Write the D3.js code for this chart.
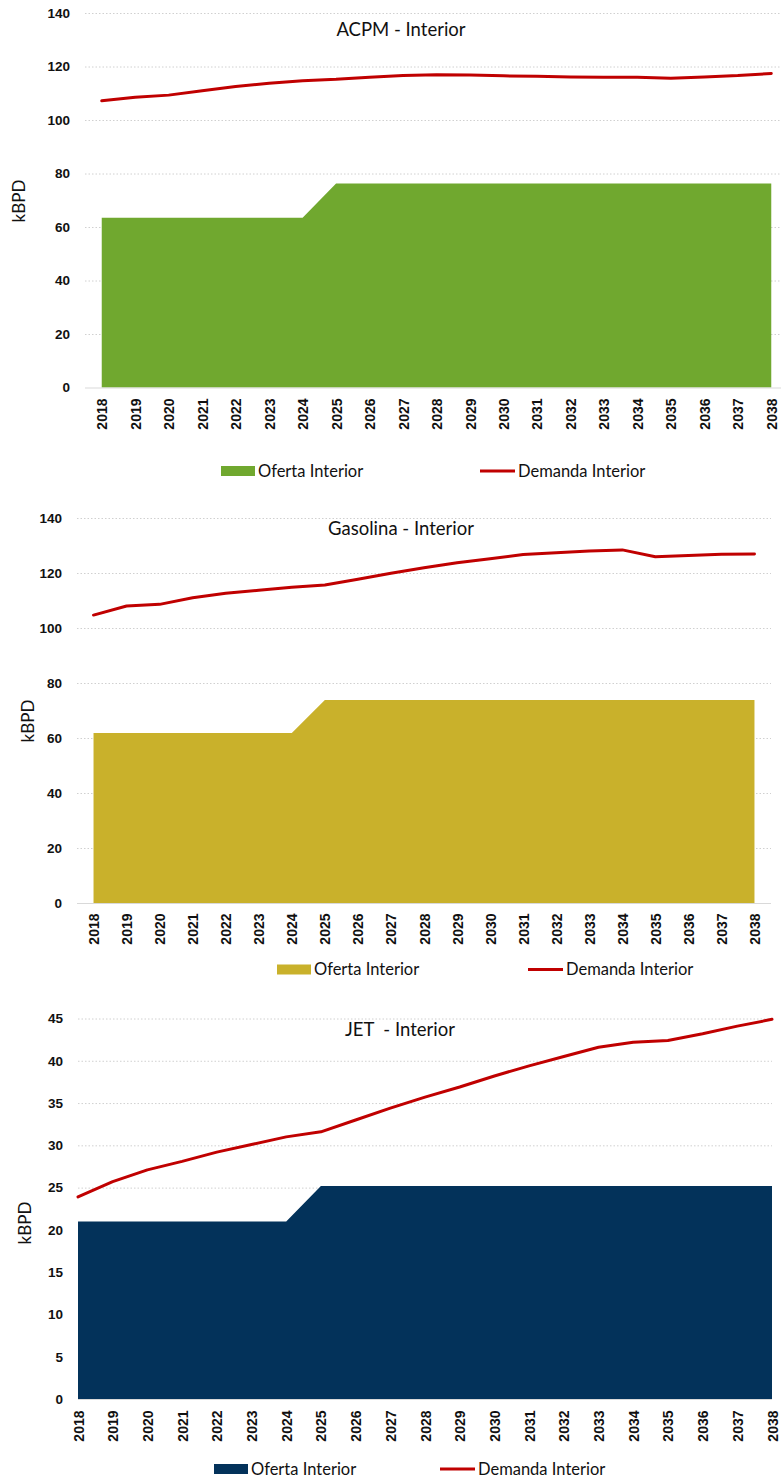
<!DOCTYPE html>
<html>
<head>
<meta charset="utf-8">
<script src="https://cdn.jsdelivr.net/npm/d3@7"></script>
<style>
    body { margin: 0; background: #fff; }
    svg { display: block; font-family: Lato, "Open Sans", sans-serif; }
    .grid line { stroke: #d0d0d0; stroke-dasharray: 1.5 2; }
    .y-axis text { font-size: 13.5px; font-weight: bold; fill: #111; }
    .x-axis text { font-size: 14px; font-weight: bold; fill: #111; }
    .x-axis path { stroke: #d9d9d9; }
    .title { font-size: 18.5px; fill: #111; white-space: pre; }
    .legend text { font-size: 16.5px; fill: #111; }
    .y-label { font-size: 17px; fill: #111; }
</style>
</head>
<body>
<div id="charts"></div>
<script>
    const years = d3.range(2018, 2039).map(String);

    const acpmOferta = [63.5, 63.5, 63.5, 63.5, 63.5, 63.5, 63.5, 76.3, 76.3, 76.3, 76.3, 76.3, 76.3, 76.3, 76.3, 76.3, 76.3, 76.3, 76.3, 76.3, 76.3];
    const acpmDemanda = [107.2, 108.5, 109.3, 110.9, 112.5, 113.7, 114.7, 115.2, 116.0, 116.6, 116.9, 116.8, 116.5, 116.4, 116.1, 116.0, 116.0, 115.6, 116.1, 116.6, 117.4];

    const gasOferta = [61.8, 61.8, 61.8, 61.8, 61.8, 61.8, 61.8, 73.8, 73.8, 73.8, 73.8, 73.8, 73.8, 73.8, 73.8, 73.8, 73.8, 73.8, 73.8, 73.8, 73.8];
    const gasDemanda = [104.7, 108.0, 108.6, 111.0, 112.6, 113.7, 114.8, 115.6, 117.7, 119.9, 121.9, 123.7, 125.2, 126.7, 127.4, 128.0, 128.4, 125.9, 126.4, 126.8, 126.9];

    const jetOferta = [21.0, 21.0, 21.0, 21.0, 21.0, 21.0, 21.0, 25.2, 25.2, 25.2, 25.2, 25.2, 25.2, 25.2, 25.2, 25.2, 25.2, 25.2, 25.2, 25.2, 25.2];
    const jetDemanda = [23.9, 25.7, 27.1, 28.1, 29.2, 30.1, 31.0, 31.6, 33.0, 34.4, 35.7, 36.9, 38.2, 39.4, 40.5, 41.6, 42.2, 42.4, 43.2, 44.1, 44.9];

    const ticks140 = [0, 20, 40, 60, 80, 100, 120, 140];
    const ticks45 = [0, 5, 10, 15, 20, 25, 30, 35, 40, 45];

    const red = "#c00000";

    const charts = [
        {
            title: "ACPM - Interior", oferta: acpmOferta, demanda: acpmDemanda, color: "#70a82f",
            ticks: ticks140, yMax: 140, xRange: [85, 788], pad: 0.5, yRange: [387.5, 13],
            tickRight: 70, titlePos: [401, 36], yLabelPos: [19, 201], labelTop: 398,
            legend: { swatch: 221, y: 471, line: 480 }
        },
        {
            title: "Gasolina - Interior", oferta: gasOferta, demanda: gasDemanda, color: "#c9b12b",
            ticks: ticks140, yMax: 140, xRange: [77, 771], pad: 0.5, yRange: [903, 518],
            tickRight: 62, titlePos: [401, 535], yLabelPos: [28, 721], labelTop: 913,
            legend: { swatch: 277, y: 969.5, line: 528 }
        },
        {
            title: "JET  - Interior", oferta: jetOferta, demanda: jetDemanda, color: "#03325a",
            ticks: ticks45, yMax: 45, xRange: [78, 772], pad: 0, yRange: [1399, 1018.5],
            tickRight: 63, titlePos: [400, 1036], yLabelPos: [25, 1223], labelTop: 1410,
            legend: { swatch: 214, y: 1469, line: 440 }
        }
    ];

    const svg = d3.select("#charts")
        .append("svg")
        .attr("width", 781)
        .attr("height", 1480);

    charts.forEach(function(c) {
        const g = svg.append("g");

        const xScale = d3.scalePoint()
            .domain(years)
            .range(c.xRange)
            .padding(c.pad);

        const yScale = d3.scaleLinear()
            .domain([0, c.yMax])
            .range(c.yRange);

        const left = c.xRange[0];
        const right = c.xRange[1];

        // dotted gridlines
        g.append("g")
            .attr("class", "grid")
            .selectAll("line")
            .data(c.ticks.filter(d => d > 0))
            .join("line")
            .attr("x1", left)
            .attr("x2", right)
            .attr("y1", d => yScale(d) + 0.5)
            .attr("y2", d => yScale(d) + 0.5);

        const area = d3.area()
            .x((d, i) => xScale(years[i]))
            .y0(yScale(0))
            .y1(d => yScale(d));

        g.append("path")
            .datum(c.oferta)
            .attr("fill", c.color)
            .attr("d", area);

        const line = d3.line()
            .x((d, i) => xScale(years[i]))
            .y(d => yScale(d));

        g.append("path")
            .datum(c.demanda)
            .attr("fill", "none")
            .attr("stroke", red)
            .attr("stroke-width", 3)
            .attr("stroke-linejoin", "round")
            .attr("stroke-linecap", "round")
            .attr("d", line);

        // y axis: labels only
        const yAxis = g.append("g")
            .attr("class", "y-axis")
            .attr("transform", `translate(${left},0)`)
            .call(d3.axisLeft(yScale).tickValues(c.ticks).tickSize(0).tickPadding(left - c.tickRight));
        yAxis.select(".domain").remove();

        // x axis with rotated year labels
        const xAxis = g.append("g")
            .attr("class", "x-axis")
            .attr("transform", `translate(0,${yScale(0) + 0.5})`)
            .call(d3.axisBottom(xScale).tickSize(0).tickSizeOuter(0));
        xAxis.select(".domain").attr("d", `M${left},0H${right}`);
        xAxis.selectAll("text")
            .attr("transform", "rotate(-90)")
            .attr("x", -(c.labelTop - yScale(0)))
            .attr("y", 0)
            .attr("dy", "0.36em")
            .attr("text-anchor", "end");

        g.append("text")
            .attr("class", "title")
            .attr("x", c.titlePos[0])
            .attr("y", c.titlePos[1])
            .attr("text-anchor", "middle")
            .text(c.title);

        g.append("text")
            .attr("class", "y-label")
            .attr("transform", `translate(${c.yLabelPos[0]},${c.yLabelPos[1]}) rotate(-90)`)
            .attr("dy", "0.36em")
            .attr("text-anchor", "middle")
            .text("kBPD");

        // legend
        const lg = g.append("g").attr("class", "legend");
        lg.append("rect")
            .attr("x", c.legend.swatch)
            .attr("y", c.legend.y - 5)
            .attr("width", 34)
            .attr("height", 10)
            .attr("fill", c.color);
        lg.append("text")
            .attr("x", c.legend.swatch + 37)
            .attr("y", c.legend.y)
            .attr("dy", "0.36em")
            .text("Oferta Interior");
        lg.append("line")
            .attr("x1", c.legend.line)
            .attr("x2", c.legend.line + 35)
            .attr("y1", c.legend.y)
            .attr("y2", c.legend.y)
            .attr("stroke", red)
            .attr("stroke-width", 3);
        lg.append("text")
            .attr("x", c.legend.line + 38)
            .attr("y", c.legend.y)
            .attr("dy", "0.36em")
            .text("Demanda Interior");
    });
</script>
</body>
</html>
